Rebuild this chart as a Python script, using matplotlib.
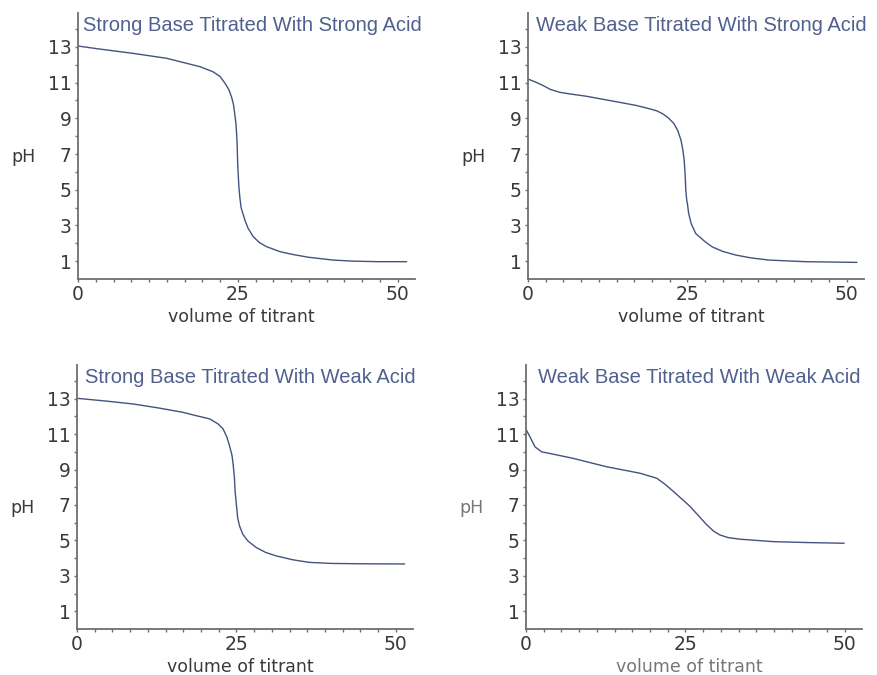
import matplotlib
matplotlib.use("Agg")
import matplotlib.pyplot as plt
import numpy as np

# ---- data ----
titles = ["Strong Base Titrated With Strong Acid",
          "Weak Base Titrated With Strong Acid",
          "Strong Base Titrated With Weak Acid",
          "Weak Base Titrated With Weak Acid"]

v_sbsa = [0, 3.4, 8.6, 13.9, 19.1, 21.1, 22.2, 23.0, 23.6, 24.0, 24.3, 24.5, 24.7,
          24.8, 24.9, 24.95, 25.05, 25.16, 25.3, 25.5, 25.8, 26.1, 26.6, 27.4, 28.4,
          29.5, 31.6, 33.5, 36.0, 39.9, 43.0, 47.0, 51.4]
ph_sbsa = [13.05, 12.88, 12.64, 12.36, 11.89, 11.61, 11.35, 10.96, 10.6, 10.21, 9.8,
           9.28, 8.7, 8.16, 7.4, 6.66, 5.9, 5.17, 4.6, 4.0, 3.65, 3.3, 2.84, 2.37, 2.03,
           1.81, 1.53, 1.38, 1.22, 1.06, 1.0, 0.97, 0.97]

v_wbsa = [0, 1.2, 2.35, 3.5, 4.95, 6.5, 9.1, 14.3, 17.0, 19.0, 20.2, 21.1, 22.0,
          22.9, 23.5, 24.0, 24.3, 24.5, 24.65, 24.75, 24.9, 25.0, 25.2, 25.6, 26.3,
          27.8, 28.9, 30.5, 32.6, 35.0, 37.8, 43.5, 51.6]
ph_wbsa = [11.2, 11.03, 10.84, 10.62, 10.46, 10.37, 10.24, 9.9, 9.72, 9.54, 9.42,
           9.26, 9.03, 8.70, 8.3, 7.77, 7.2, 6.65, 5.8, 4.97, 4.4, 4.23, 3.67, 3.1,
           2.55, 2.08, 1.80, 1.55, 1.34, 1.18, 1.06, 0.97, 0.93]

v_sbwa = [0, 4.4, 8.8, 12.7, 16.6, 18.8, 20.8, 22.1, 22.9, 23.5, 23.9, 24.3, 24.5,
          24.7, 24.8, 25.0, 25.2, 25.5, 26.0, 26.8, 28.1, 29.6, 31.2, 33.8, 36.4,
          40, 45, 51.4]
ph_sbwa = [13.02, 12.87, 12.70, 12.48, 12.23, 12.03, 11.86, 11.58, 11.3, 10.84,
           10.37, 9.82, 9.26, 8.51, 7.77, 7.02, 6.27, 5.81, 5.35, 4.97, 4.60, 4.32,
           4.13, 3.91, 3.76, 3.70, 3.68, 3.67]

v_wbwa = [0, 0.63, 1.41, 2.45, 4.5, 7.4, 12.6, 17.9, 20.5, 21.8, 23.1, 25.7, 28.3,
          29.4, 30.4, 31.7, 33.5, 38.8, 44.0, 49.9]
ph_wbwa = [11.27, 10.84, 10.28, 10.0, 9.85, 9.63, 9.16, 8.79, 8.51, 8.17, 7.77,
           6.93, 5.9, 5.53, 5.31, 5.16, 5.07, 4.93, 4.88, 4.84]

x_major = [0, 25, 50]
y_major = [1, 3, 5, 7, 9, 11, 13]
y_minor = [2, 4, 6, 8, 10, 12, 14]
x_minor = list(np.linspace(0, 50, 19))

series = [(v_sbsa, ph_sbsa), (v_wbsa, ph_wbsa), (v_sbwa, ph_sbwa), (v_wbwa, ph_wbwa)]

# ---- layout ----
W, H = 877, 675
fig = plt.figure(figsize=(W / 100, H / 100), dpi=100)
boxes = [(78, 13, 415, 279), (528, 13, 864, 279),
         (77, 365, 413, 629), (526, 365, 862, 629)]

line_color = "#44527f"
title_color = "#50608f"
axis_color = "#6e6e6e"
text_color = "#3a3a3a"

for i, ((x0, y0, x1, y1), (vv, pp)) in enumerate(zip(boxes, series)):
    ax = fig.add_axes([x0 / W, 1 - y1 / H, (x1 - x0) / W, (y1 - y0) / H])
    ax.plot(vv, pp, color=line_color, lw=1.0, solid_capstyle="round",
            solid_joinstyle="round")
    ax.set_xlim(0, 52.7)
    ax.set_ylim(0, 14.9)
    for s in ["top", "right"]:
        ax.spines[s].set_visible(False)
    for s in ["left", "bottom"]:
        ax.spines[s].set_color(axis_color)
        ax.spines[s].set_linewidth(1.3)
    ax.set_xticks(x_major)
    ax.set_xticks(x_minor, minor=True)
    ax.set_yticks(y_major)
    ax.set_yticks(y_minor, minor=True)
    ax.tick_params(which="both", direction="out", length=2.5, width=1.0,
                   color=axis_color, labelcolor=text_color, labelsize=13.5, pad=2)
    for lab in ax.get_xticklabels() + ax.get_yticklabels():
        lab.set_family("DejaVu Sans")
    lc = "#777777" if i == 3 else text_color
    ax.set_xlabel("volume of titrant", fontsize=12.5, color=lc, family="DejaVu Sans")
    ax.xaxis.set_label_coords(0.486, -0.108)
    ax.annotate("pH", xy=(0, 7), xycoords=("axes fraction", "data"),
                xytext=(-48, -2), textcoords="offset points",
                ha="left", va="center", fontsize=12.5, color=lc, family="DejaVu Sans")
    ax.annotate(titles[i], xy=(0.5, 1), xycoords="axes fraction",
                xytext=(4, -9), textcoords="offset points",
                ha="center", va="center", fontsize=14.5, color=title_color,
                family="Liberation Sans")

fig.savefig("out.png", dpi=100)
